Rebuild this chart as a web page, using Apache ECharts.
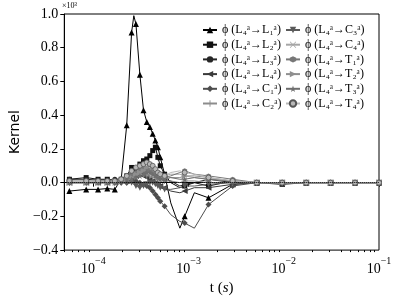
<!DOCTYPE html>
<html><head><meta charset="utf-8">
<script src="https://cdn.jsdelivr.net/npm/echarts@6/dist/echarts.min.js"></script>
<style>html,body{margin:0;padding:0;background:#fff}#c{width:399px;height:301px}</style>
</head><body><div id="c"></div>
<script>
// time samples (s)
const tGrid = [5.6e-5, 8.4e-5, 1.12e-4, 1.4e-4, 1.68e-4, 1.96e-4, 2.24e-4, 2.52e-4, 2.66e-4, 2.8e-4,
  3.08e-4, 3.36e-4, 3.64e-4, 3.92e-4, 4.2e-4, 4.48e-4, 4.76e-4, 5.04e-4, 5.6e-4, 6.5e-4,
  8.1e-4, 9.1e-4, 1.15e-3, 1.62e-3, 2.9e-3, 5.2e-3, 9.6e-3, 1.72e-2, 3.1e-2, 5.6e-2, 1e-1];
// which samples carry a marker
const markerShown = [1,1,1,1,1,1,1,1,0,1, 1,1,1,1,1,1,1,1,1,0, 0,1,0,1,1,1,1,1,1,1,1];

const seriesNames = ['ϕ (L₄ᵃ→L₁ᵃ)','ϕ (L₄ᵃ→L₂ᵃ)','ϕ (L₄ᵃ→L₃ᵃ)','ϕ (L₄ᵃ→L₄ᵃ)','ϕ (L₄ᵃ→C₁ᵃ)','ϕ (L₄ᵃ→C₂ᵃ)',
  'ϕ (L₄ᵃ→C₃ᵃ)','ϕ (L₄ᵃ→C₄ᵃ)','ϕ (L₄ᵃ→T₁ᵃ)','ϕ (L₄ᵃ→T₂ᵃ)','ϕ (L₄ᵃ→T₃ᵃ)','ϕ (L₄ᵃ→T₄ᵃ)'];

const kL1 = [-0.05,-0.04,-0.04,-0.035,-0.04,0.02,0.34,0.89,0.99,0.94, 0.64,0.43,0.36,0.33,0.29,0.25,0.21,0.15,0.05,-0.12, -0.27,-0.2,-0.06,-0.09,-0.01,0,0,0,0,0,0];
const kL2 = [0.02,0.03,0.02,0.02,0.01,0.02,0.04,0.09,null,0.08, 0.11,0.13,0.14,0.16,0.19,0.21,0.15,0.1,0.05,0.0, -0.03,-0.02,0.0,-0.02,0.01,0,-0.01,0,0,0,0];
const kL3 = [0.02,0.02,0.015,0.015,0.02,0.02,0.03,0.05,null,0.06, 0.07,0.06,0.08,0.07,0.06,0.05,0.04,0.03,0.02,0.01, -0.02,-0.01,0.0,0.02,0,0,0,0,0,0,0];
const kL4 = [0,0,0,0,0,0.01,0.01,0.03,null,0.04, 0.05,0.04,0.03,0.02,0.01,0,-0.01,-0.02,-0.03,-0.05, -0.06,-0.05,-0.03,-0.03,-0.01,0,0,0,0,0,0];
const kC1 = [0,0,0,0,0,0,0,0.01,null,0.01, 0,-0.01,-0.02,-0.03,-0.05,-0.07,-0.09,-0.11,-0.14,-0.19, -0.23,-0.24,-0.27,-0.13,-0.02,0,0,0,0,0,0];
const kC2 = [0,0,0.005,0,0,0.01,0.02,0.03,null,0.04, 0.05,0.05,0.04,0.04,0.03,0.03,0.02,0.02,0.01,0.01, 0,0.01,0.01,0,0,0,0,0,0,0,0];
const kC3 = [0,0,0,0,0,0,0,0,null,-0.02, -0.03,-0.02,-0.01,0,0,-0.01,-0.02,-0.03,-0.04,-0.04, -0.03,-0.02,-0.02,-0.01,0,0,0,0,0,0,0];
const kC4 = [0,0,0,0,0,0.01,0.02,0.04,null,0.05, 0.06,0.07,0.07,0.06,0.06,0.05,0.05,0.04,0.04,0.05, 0.05,0.04,0.03,0.02,0.01,0,0,0,0,0,0];
const kT1 = [0.01,0.01,0.01,0.01,0.01,0.02,0.03,0.05,null,0.06, 0.08,0.09,0.08,0.07,0.06,0.05,0.04,0.04,0.03,0.04, 0.06,0.07,0.05,0.04,0.02,0,0,0,0,0,0];
const kT2 = [0,0,0,0,0.01,0.01,0.02,0.03,null,0.05, 0.06,0.07,0.09,0.1,0.09,0.08,0.06,0.05,0.04,0.03, 0.03,0.04,0.04,0.03,0.01,0,0,0,0,0,0];
const kT3 = [0,0,0,0,0,0.01,0.02,0.02,null,0.03, 0.04,0.05,0.06,0.06,0.05,0.04,0.03,0.02,0.02,0.03, 0.02,0.02,0.03,0.02,0.01,0,0,0,0,0,0];
const kT4 = [0.01,0.01,0.01,0.01,0.01,0.02,0.04,0.07,null,0.09, 0.1,0.11,0.12,0.11,0.1,0.08,0.06,0.05,0.04,0.06, 0.07,0.06,0.05,0.03,0.01,0,0,0,0,0,0];
const seriesValues = [kL1,kL2,kL3,kL4,kC1,kC2,kC3,kC4,kT1,kT2,kT3,kT4];

const xMajorTicks = [1e-4, 1e-3, 1e-2, 1e-1];
const yTickMin = -0.4, yTickMax = 1.0, yTickStep = 0.2;

// styling
const P = 'path://';
const symbols = [
  'triangle', 'rect', 'circle',
  P+'M0,5L10,0L10,10Z',
  P+'M5,0L8,5L5,10L2,5Z',
  P+'M4.3,0H5.7V4.3H10V5.7H5.7V10H4.3V5.7H0V4.3H4.3Z',
  P+'M0,0L10,0L5,10Z',
  P+'M0.8,0L5,4.2L9.2,0L10,0.8L5.8,5L10,9.2L9.2,10L5,5.8L0.8,10L0,9.2L4.2,5L0,0.8Z',
  P+'M5,0L9.33,2.5L9.33,7.5L5,10L0.67,7.5L0.67,2.5Z',
  P+'M0,0L10,5L0,10Z',
  P+'M5,0L6.18,3.38L9.76,3.45L6.9,5.62L7.94,9.05L5,7L2.06,9.05L3.1,5.62L0.24,3.45L3.82,3.38Z',
  'circle'
];
const colors = ['#000000','#111111','#262626','#3a3a3a','#4d4d4d','#8c8c8c','#5a5a5a','#a6a6a6','#777777','#8f8f8f','#6e6e6e','#b8b8b8'];
const sizes = [6,5,5,6,6,6,6,6,5,6,6,5];
const serif = "'Liberation Serif','DejaVu Serif',serif";

const series = seriesValues.map((vals, si) => ({
  name: seriesNames[si],
  type: 'line',
  xAxisIndex: 0,
  symbol: symbols[si],
  symbolSize: sizes[si],
  connectNulls: true,
  lineStyle: { color: colors[si], width: 1 },
  itemStyle: { color: colors[si], borderColor: si === 11 ? '#555' : colors[si], borderWidth: si === 11 ? 0.8 : 0 },
  emphasis: { disabled: true },
  data: tGrid.map((t, i) => ({ value: [t, vals[i] == null ? '-' : vals[i]], symbol: markerShown[i] ? symbols[si] : 'none' })),
  markLine: si === 11 ? { silent: true, symbol: 'none', label: { show: false },
    lineStyle: { type: 'dotted', color: '#000', width: 1 }, data: [{ yAxis: 0 }] } : undefined
}));

const minorTicks = [];
for (let d = -5; d <= -2; d++) for (let k = 2; k <= 9; k++) minorTicks.push(k * Math.pow(10, d));

const chart = echarts.init(document.getElementById('c'), null, { renderer: 'canvas' });
chart.setOption({
  animation: false,
  backgroundColor: '#fff',
  grid: { left: 60, top: 14, width: 319, height: 241, show: true, borderColor: '#000', borderWidth: 1, containLabel: false },
  xAxis: [{
    type: 'log', logBase: 10, min: 4.95e-5, max: 0.1,
    name: '{r|t (}{i|s}{r|)}', nameLocation: 'middle', nameGap: 22,
    nameTextStyle: { rich: { r: { fontFamily: serif, fontSize: 15, color: '#000' }, i: { fontFamily: serif, fontSize: 15, fontStyle: 'italic', color: '#000' } } },
    axisLine: { lineStyle: { color: '#000', width: 1 } },
    axisTick: { show: true, inside: false, length: 4, lineStyle: { color: '#000' }, customValues: xMajorTicks },
    axisLabel: { customValues: xMajorTicks, margin: 6,
      formatter: v => { const e = Math.round(Math.log10(v)); return '{b|10}{s|−' + String(-e) + '}'; },
      rich: { b: { fontFamily: serif, fontSize: 14, color: '#000', lineHeight: 20, verticalAlign: 'bottom' },
              s: { fontFamily: serif, fontSize: 10, color: '#000', lineHeight: 12, verticalAlign: 'top' } } },
    splitLine: { show: false }
  }, {
    type: 'log', logBase: 10, min: 4.95e-5, max: 0.1, position: 'bottom',
    axisLine: { show: false },
    axisTick: { show: true, inside: false, length: 2, lineStyle: { color: '#000' }, customValues: minorTicks },
    axisLabel: { show: false }, splitLine: { show: false }
  }],
  yAxis: {
    type: 'value', min: yTickMin, max: yTickMax, interval: yTickStep,
    name: 'Kernel', nameLocation: 'middle', nameGap: 40,
    nameTextStyle: { fontFamily: "'DejaVu Sans',sans-serif", fontSize: 14, color: '#000' },
    axisLine: { show: true, lineStyle: { color: '#000', width: 1 } },
    axisTick: { show: true, inside: false, length: 4, lineStyle: { color: '#000' } },
    axisLabel: { margin: 6, fontFamily: serif, fontSize: 14, color: '#000',
      formatter: v => (v < -1e-9 ? '−' : '') + Math.abs(v).toFixed(1) },
    splitLine: { show: false }
  },
  legend: [0, 1].map(c => ({
    data: seriesNames.slice(c * 6, c * 6 + 6),
    orient: 'vertical', left: c === 0 ? 202 : 285, top: 24,
    itemWidth: 14, itemHeight: 8, itemGap: 2.7, padding: 0,
    selectedMode: false,
    textStyle: { fontFamily: serif, fontSize: 12, color: '#000' }
  })),
  graphic: [{ type: 'text', left: 62, top: 2, style: { text: '×10³', font: "8px 'Liberation Serif', serif", fill: '#000' } }],
  series: series
});
</script></body></html>
